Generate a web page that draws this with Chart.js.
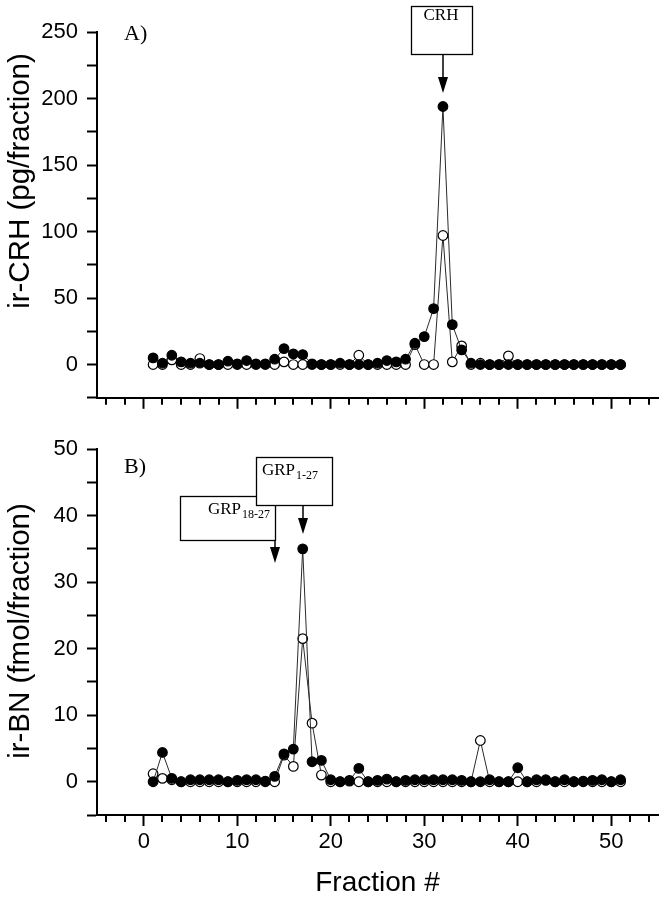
<!DOCTYPE html>
<html><head><meta charset="utf-8">
<script src="https://cdn.jsdelivr.net/npm/chart.js@4.4.1/dist/chart.umd.min.js"></script>
<style>
html,body{margin:0;padding:0;background:#fff;}
#wrap{position:relative;width:664px;height:899px;overflow:hidden;background:#fff;}
.panel{position:absolute;left:0;width:664px;}
</style></head><body>
<div id="wrap">
<div class="panel" style="top:0;height:420px"><canvas id="cA" width="664" height="420"></canvas></div>
<div class="panel" style="top:420px;height:479px"><canvas id="cB" width="664" height="479"></canvas></div>
</div>
<script>
// ---- data ----
const fractions = [1,2,3,4,5,6,7,8,9,10,11,12,13,14,15,16,17,18,19,20,21,22,23,24,25,26,27,28,29,30,31,32,33,34,35,36,37,38,39,40,41,42,43,44,45,46,47,48,49,50,51];
const crhFilled = [5,1,7,2,1,1,0,0,2.5,0.5, 3,0.5,0.5,4,12,8,7.5,0.5,0,0, 1,0,0,0,1,3,2,4,16,21, 42,194,30,11,1,0,0,0,0,0, 0,0,0,0,0,0,0,0,0,0,0];
const crhOpen   = [0,0,3.5,0,0,4.5,0,0,0,0, 0,0,0,0,2,0,0,0,0,0, 0,0,7,0,0,0,0,0,15,0, 0,97,2,14,0,1,0,0,6.5,0, 0,0,0,0,0,0,0,0,0,0,0];
const bnFilled  = [0,4.4,0.5,0,0.3,0.3,0.3,0.3,0,0.2, 0.3,0.3,0.1,0.8,4.2,4.9,35,3.0,3.2,0.3, 0,0.2,2.0,0,0.2,0.4,0,0.2,0.3,0.3, 0.3,0.3,0.3,0.2,0,0,0.3,0,0,2.1, 0,0.3,0.2,0,0.3,0,0.1,0.2,0.3,0,0.3];
const bnOpen    = [1.2,0.5,0.3,0,0,0,0,0,0,0, 0,0,0,0,4.0,2.3,21.5,8.8,1.0,0, 0,0.1,0,0,0,0,0,0,0,0, 0,0,0,0,0,6.2,0,0,0,0, 0,0,0.3,0,0,0,0,0,0,0,0];

const xTickValues = [-4,-2,0,2,4,6,8,10,12,14,16,18,20,22,24,26,28,30,32,34,36,38,40,42,44,46,48,50,52,54];
const xLabelValues = [0,10,20,30,40,50];
const xTickLabels = ['0','10','20','30','40','50'];
const yTicksA = [-25,0,25,50,75,100,125,150,175,200,225,250];
const yLabelValuesA = [0,50,100,150,200,250];
const yTickLabelsA = ['0','50','100','150','200','250'];
const yTicksB = [-5,0,5,10,15,20,25,30,35,40,45,50];
const yLabelValuesB = [0,10,20,30,40,50];
const yTickLabelsB = ['0','10','20','30','40','50'];

const SANS = '"Liberation Sans", Arial, sans-serif';
const SERIF = '"Liberation Serif", "Times New Roman", serif';

function pts(vals){ return fractions.map((f,i)=>({x:f,y:vals[i]})); }

function ds(label, vals, filled){
  return {
    label, data: pts(vals), showLine:true, tension:0,
    borderColor:'#2a2a2a', borderWidth:1,
    pointRadius:4.8, pointHoverRadius:4.8,
    pointBackgroundColor: filled ? '#000' : '#fff',
    pointBorderColor:'#000', pointBorderWidth:1.2,
    order: filled ? 1 : 2
  };
}

const minorTicks = {
  id:'minorTicks',
  afterDraw(chart){
    const s = chart.scales.x, ctx = chart.ctx, b = chart.chartArea.bottom;
    ctx.save(); ctx.strokeStyle='#000'; ctx.lineWidth=2;
    xTickValues.forEach(v=>{
      if (v % 10 === 0) return;
      const px = Math.round(s.getPixelForValue(v));
      ctx.beginPath(); ctx.moveTo(px, b); ctx.lineTo(px, b+7); ctx.stroke();
    });
    ctx.restore();
  }
};

function arrow(ctx, x, y0, tip){
  ctx.beginPath(); ctx.moveTo(x, y0); ctx.lineTo(x, tip-12); ctx.lineWidth=1.5; ctx.stroke();
  ctx.beginPath(); ctx.moveTo(x-5, tip-16); ctx.lineTo(x+5, tip-16); ctx.lineTo(x, tip); ctx.closePath(); ctx.fill();
}
function box(ctx, l, t, r, b){
  ctx.fillStyle='#fff'; ctx.fillRect(l,t,r-l,b-t);
  ctx.strokeStyle='#000'; ctx.lineWidth=1.3; ctx.strokeRect(l+0.5,t+0.5,r-l,b-t);
  ctx.fillStyle='#000';
}
function yTitle(ctx, text, cx, cy){
  ctx.save(); ctx.translate(cx, cy); ctx.rotate(-Math.PI/2);
  ctx.font = '29.5px ' + SANS; ctx.fillStyle='#000';
  ctx.textAlign='center'; ctx.textBaseline='middle';
  ctx.fillText(text, 0, 0); ctx.restore();
}

const annotA = {
  id:'annotA',
  afterDraw(chart){
    const ctx = chart.ctx, s = chart.scales.x;
    ctx.save(); ctx.fillStyle='#000'; ctx.strokeStyle='#000';
    yTitle(ctx, 'ir-CRH (pg/fraction)', 21, 181);
    ctx.font = '22px ' + SERIF; ctx.textBaseline='middle'; ctx.textAlign='left';
    ctx.fillText('A)', 124, 34);
    const ax = Math.round(s.getPixelForValue(32));
    box(ctx, ax-32, 6, ax+29, 54);
    ctx.font = '17px ' + SERIF; ctx.textAlign='center'; ctx.textBaseline='middle';
    ctx.fillText('CRH', ax-2, 16);
    arrow(ctx, ax, 54, 93);
    ctx.restore();
  }
};

const annotB = {
  id:'annotB',
  afterDraw(chart){
    const ctx = chart.ctx, s = chart.scales.x, off = 420;
    ctx.save(); ctx.fillStyle='#000'; ctx.strokeStyle='#000';
    yTitle(ctx, 'ir-BN (fmol/fraction)', 21, 631-off);
    ctx.font = '22px ' + SERIF; ctx.textBaseline='middle'; ctx.textAlign='left';
    ctx.fillText('B)', 124, 467-off);
    // GRP18-27
    const a2 = Math.round(s.getPixelForValue(14));
    box(ctx, a2-95, 496-off, a2, 540-off);
    ctx.textAlign='left'; ctx.font='17px ' + SERIF;
    ctx.fillText('GRP', a2-67, 510-off);
    let w = ctx.measureText('GRP').width;
    ctx.font='12px ' + SERIF; ctx.fillText('18-27', a2-67+w+1, 515-off);
    arrow(ctx, a2, 540-off, 563-off);
    // GRP1-27
    const a1 = Math.round(s.getPixelForValue(17));
    box(ctx, a1-47, 457-off, a1+29, 505-off);
    ctx.font='17px ' + SERIF;
    ctx.fillText('GRP', a1-41, 471-off);
    w = ctx.measureText('GRP').width;
    ctx.font='12px ' + SERIF; ctx.fillText('1-27', a1-41+w+1, 476-off);
    arrow(ctx, a1, 505-off, 534-off);
    ctx.restore();
  }
};

function makeChart(id, filled, open, yMin, yMax, yTicks, yLabVals, yLabs, pad, xHeight, showX, annot){
  return new Chart(document.getElementById(id), {
    type:'scatter',
    data:{ datasets:[ ds('open', open, false), ds('filled', filled, true) ] },
    options:{
      responsive:false, animation:false, devicePixelRatio:1,
      layout:{ padding: pad },
      plugins:{ legend:{display:false}, tooltip:{enabled:false} },
      scales:{
        x:{
          type:'linear', min:-5, max:55,
          afterBuildTicks: s => { s.ticks = xTickValues.map(v=>({value:v})); },
          afterFit: s => { s.height = xHeight; },
          ticks:{ display: showX, autoSkip:false, maxRotation:0, padding:3, color:'#000',
                  font:{family:SANS, size:22},
                  callback: v => { const i = xLabelValues.indexOf(v); return i>=0 ? xTickLabels[i] : ''; } },
          grid:{ drawOnChartArea:false, drawTicks:true, tickLength:11, tickWidth:2,
                 tickColor: c => (c.tick && c.tick.value % 10 === 0) ? '#000' : 'rgba(0,0,0,0)' },
          border:{ display:true, color:'#000', width:2 },
          title:{ display: showX, text:'Fraction #', color:'#000', font:{family:SANS, size:28, lineHeight:1}, padding:{top:0,bottom:2} }
        },
        y:{
          type:'linear', min:yMin, max:yMax,
          afterBuildTicks: s => { s.ticks = yTicks.map(v=>({value:v})); },
          afterFit: s => { s.width = 97; },
          ticks:{ autoSkip:false, padding:9, color:'#000', font:{family:SANS, size:22},
                  callback: v => { const i = yLabVals.indexOf(v); return i>=0 ? yLabs[i] : ''; } },
          grid:{ drawOnChartArea:false, drawTicks:true, tickLength:10, tickWidth:2, tickColor:'#000' },
          border:{ display:true, color:'#000', width:2 }
        }
      }
    },
    plugins:[minorTicks, annot]
  });
}

makeChart('cA', crhFilled, crhOpen, -25, 250, yTicksA, yLabelValuesA, yTickLabelsA,
          {top:32, right:3, left:0, bottom:0}, 22, false, annotA);
makeChart('cB', bnFilled, bnOpen, -5, 50, yTicksB, yLabelValuesB, yTickLabelsB,
          {top:29, right:3, left:0, bottom:0}, 84, true, annotB);
</script>
</body></html>
